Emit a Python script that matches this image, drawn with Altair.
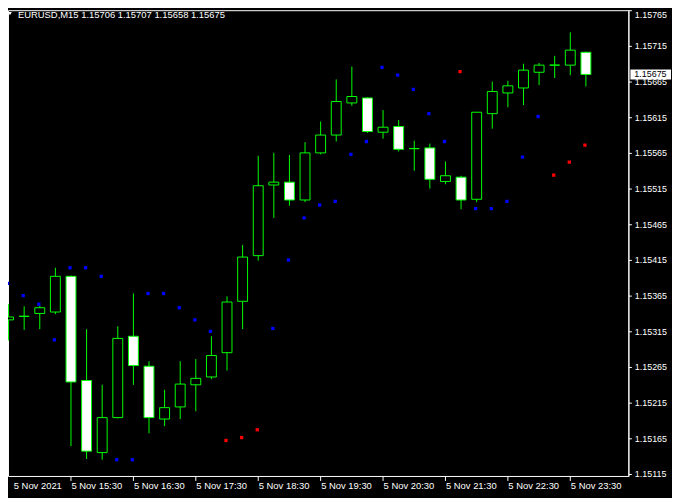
import altair as alt
import pandas as pd

# ---- data (EURUSD M15, 5 Nov 2021, bars 14:30 .. 23:45) ----
bar_index = list(range(38))
opens = [1.15331, 1.15336, 1.15340, 1.15342, 1.15392, 1.15246, 1.15145, 1.15194,
         1.15308, 1.15266, 1.15192, 1.15209, 1.15240, 1.15251, 1.15285, 1.15357,
         1.15421, 1.15520, 1.15524, 1.15499, 1.15565, 1.15590, 1.15635, 1.15642,
         1.15594, 1.15602, 1.15571, 1.15572, 1.15525, 1.15531, 1.15500, 1.15620,
         1.15649, 1.15656, 1.15678, 1.15688, 1.15688, 1.15706]
highs = [1.15353, 1.15350, 1.15351, 1.15404, 1.15393, 1.15318, 1.15240, 1.15322,
         1.15368, 1.15273, 1.15233, 1.15273, 1.15276, 1.15308, 1.15364, 1.15436,
         1.15561, 1.15565, 1.15562, 1.15580, 1.15609, 1.15668, 1.15686, 1.15643,
         1.15625, 1.15611, 1.15582, 1.15578, 1.15553, 1.15533, 1.15622, 1.15665,
         1.15666, 1.15690, 1.15691, 1.15701, 1.15734, 1.15707]
lows = [1.15302, 1.15317, 1.15318, 1.15339, 1.15154, 1.15136, 1.15135, 1.15193,
        1.15240, 1.15172, 1.15182, 1.15192, 1.15203, 1.15248, 1.15260, 1.15318,
        1.15414, 1.15474, 1.15491, 1.15496, 1.15563, 1.15581, 1.15631, 1.15593,
        1.15585, 1.15567, 1.15540, 1.15515, 1.15521, 1.15486, 1.15496, 1.15599,
        1.15629, 1.15632, 1.15660, 1.15670, 1.15674, 1.15658]
closes = [1.15335, 1.15336, 1.15348, 1.15392, 1.15244, 1.15147, 1.15194, 1.15305,
          1.15267, 1.15194, 1.15208, 1.15241, 1.15249, 1.15281, 1.15356, 1.15419,
          1.15519, 1.15524, 1.15499, 1.15565, 1.15590, 1.15637, 1.15644, 1.15595,
          1.15601, 1.15570, 1.15571, 1.15528, 1.15533, 1.15499, 1.15622, 1.15651,
          1.15659, 1.15681, 1.15688, 1.15688, 1.15709, 1.15675]

dot_values = [1.15382, 1.15365, 1.15353, 1.15303, 1.15404, 1.15404, 1.15392, 1.15135,
              1.15135, 1.15368, 1.15368, 1.15348, 1.15331, 1.15315, 1.15162, 1.15166,
              1.15177, 1.15319, 1.15415, 1.15474, 1.15492, 1.15497, 1.15563, 1.15581,
              1.15685, 1.15674, 1.15654, 1.15620, 1.15581, 1.15679, 1.15487, 1.15487,
              1.15497, 1.15559, 1.15616, 1.15534, 1.15552, 1.15576]
dot_kinds = ["up"] * 14 + ["down"] * 3 + ["up"] * 12 + ["down"] + ["up"] * 5 + ["down"] * 3

tick_index = [0, 4, 8, 12, 16, 20, 24, 28, 32, 36]
tick_labels = ["5 Nov 2021", "5 Nov 15:30", "5 Nov 16:30", "5 Nov 17:30", "5 Nov 18:30",
               "5 Nov 19:30", "5 Nov 20:30", "5 Nov 21:30", "5 Nov 22:30", "5 Nov 23:30"]
y_ticks = [1.15115, 1.15165, 1.15215, 1.15265, 1.15315, 1.15365, 1.15415, 1.15465,
           1.15515, 1.15565, 1.15615, 1.15665, 1.15715, 1.15765]
last_price = [1.15675]
header_text = ["EURUSD,M15  1.15706 1.15707 1.15658 1.15675"]

# ---- tables ----
candles = pd.DataFrame({"i": bar_index, "open": opens, "high": highs,
                        "low": lows, "close": closes})
candles["fill"] = ["#ffffff" if c < o else "#000000" for o, c in zip(opens, closes)]
dots = pd.DataFrame({"i": bar_index, "v": dot_values, "kind": dot_kinds})
ticks = pd.DataFrame({"i": tick_index, "label": tick_labels})
price_df = pd.DataFrame({"p": last_price, "label": [f"{v:.5f}" for v in last_price]})
header_df = pd.DataFrame({"t": header_text})

FONT = "Liberation Sans"
GREEN = "#00ff00"
W, H = 626, 470

xscale = alt.Scale(domain=[0.28125, 39.40625], nice=False, zero=False)
yscale = alt.Scale(domain=[1.151122, 1.15765], nice=False, zero=False)

X = alt.X("i:Q", scale=xscale, axis=None)
Yaxis = alt.Axis(orient="right", values=y_ticks, format=".5f", title=None, grid=False,
                 domainColor="white", tickColor="white", tickSize=3, labelPadding=3,
                 labelColor="white", labelFont=FONT, labelFontSize=9, zindex=0,
                 labelBound=False, labelFlush=True, labelFlushOffset=0,
                 labelOverlap=False)


def Y(field):
    return alt.Y(field, scale=yscale, axis=Yaxis)


base = alt.Chart(candles)

wicks = base.mark_rule(color=GREEN, strokeWidth=1, clip=True).encode(
    x=X, y=Y("low:Q"), y2="high:Q")

bodies = base.mark_bar(size=10, stroke=GREEN, strokeWidth=1, clip=True).encode(
    x=X, y=Y("open:Q"), y2="close:Q",
    fill=alt.Fill("fill:N", scale=None))

dot_layer = alt.Chart(dots).mark_square(size=11, opacity=1, clip=True, xOffset=-1).encode(
    x=X, y=Y("v:Q"),
    color=alt.Color("kind:N", scale=alt.Scale(domain=["up", "down"],
                                               range=["#0000ff", "#ff0000"]), legend=None))

tick_marks = alt.Chart(ticks).transform_filter("datum.i > 0").mark_rule(
    color="white", strokeWidth=1).encode(x=X, y=alt.value(H + 1), y2=alt.value(H + 5))

tick_text = alt.Chart(ticks).transform_calculate(
    xpos="max(datum.i, 0.3)").mark_text(
    align="left", baseline="alphabetic", color="white", font=FONT, fontSize=9.5, dx=0.5
).encode(x=alt.X("xpos:Q", scale=xscale, axis=None), y=alt.value(H + 13.5), text="label:N")

price_box = alt.Chart(price_df).transform_calculate(
    top="datum.p + 0.00007", bot="datum.p - 0.00007").mark_rect(
    fill="white").encode(x=alt.value(W + 2), x2=alt.value(W + 43),
                         y=Y("top:Q"), y2="bot:Q")

price_text = alt.Chart(price_df).mark_text(
    align="left", baseline="middle", color="black", font=FONT, fontSize=9
).encode(x=alt.value(W + 6), y=Y("p:Q"), text="label:N")

header = alt.Chart(header_df).mark_text(
    align="left", baseline="alphabetic", color="white", font=FONT, fontSize=9.5
).encode(x=alt.value(10), y=alt.value(7.5), text="t:N")

arrow = alt.Chart(header_df).mark_point(
    shape="triangle-down", filled=True, color="white", size=14, opacity=1
).encode(x=alt.value(2), y=alt.value(3.5))

chart = alt.layer(wicks, bodies, dot_layer, tick_marks, tick_text,
                  price_box, price_text, header, arrow).properties(
    width=W, height=H,
    background="black",
    padding={"left": 0, "top": 0, "right": 44, "bottom": 20},
    autosize=alt.AutoSizeParams(type="none"),
).configure_view(stroke="white", strokeWidth=1).configure_axis(labelOverlap=False)

chart.save("out.html", embed_options={"renderer": "svg", "actions": False})
